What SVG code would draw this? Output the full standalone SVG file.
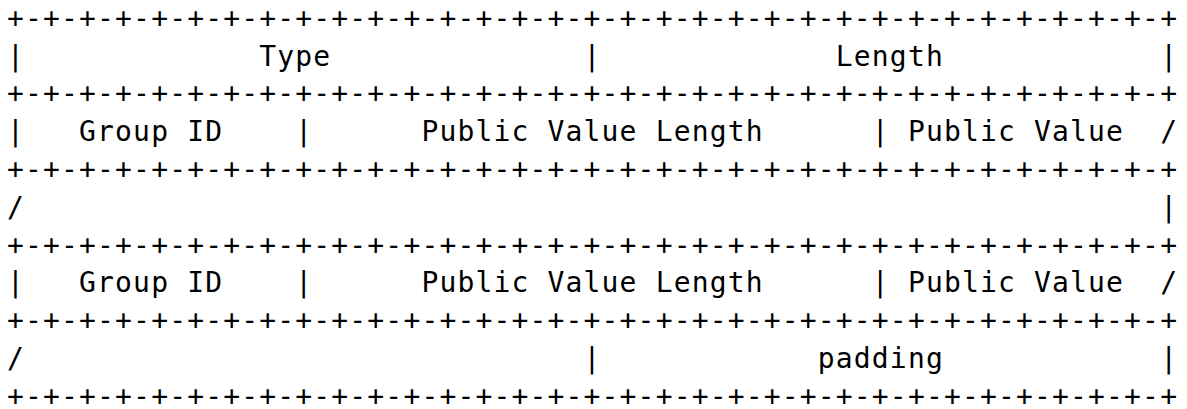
<svg xmlns="http://www.w3.org/2000/svg" width="1187" height="409" viewBox="0 0 1187 409">
<style>
text{font-family:"DejaVu Sans Mono","Liberation Mono",monospace;font-size:28px;fill:#000;white-space:pre}
</style>
<rect width="1187" height="409" fill="#fff"/>
<g id="diagram" xml:space="preserve">
<text x="7" y="27.5" textLength="1170" lengthAdjust="spacing">+-+-+-+-+-+-+-+-+-+-+-+-+-+-+-+-+-+-+-+-+-+-+-+-+-+-+-+-+-+-+-+-+</text>
<text x="7" y="65.5" textLength="1170" lengthAdjust="spacing">|             Type              |             Length            |</text>
<text x="7" y="103" textLength="1170" lengthAdjust="spacing">+-+-+-+-+-+-+-+-+-+-+-+-+-+-+-+-+-+-+-+-+-+-+-+-+-+-+-+-+-+-+-+-+</text>
<text x="7" y="141" textLength="1170" lengthAdjust="spacing">|   Group ID    |      Public Value Length      | Public Value  /</text>
<text x="7" y="179" textLength="1170" lengthAdjust="spacing">+-+-+-+-+-+-+-+-+-+-+-+-+-+-+-+-+-+-+-+-+-+-+-+-+-+-+-+-+-+-+-+-+</text>
<text x="7" y="216.5" textLength="1170" lengthAdjust="spacing">/                                                               |</text>
<text x="7" y="254.5" textLength="1170" lengthAdjust="spacing">+-+-+-+-+-+-+-+-+-+-+-+-+-+-+-+-+-+-+-+-+-+-+-+-+-+-+-+-+-+-+-+-+</text>
<text x="7" y="292" textLength="1170" lengthAdjust="spacing">|   Group ID    |      Public Value Length      | Public Value  /</text>
<text x="7" y="330" textLength="1170" lengthAdjust="spacing">+-+-+-+-+-+-+-+-+-+-+-+-+-+-+-+-+-+-+-+-+-+-+-+-+-+-+-+-+-+-+-+-+</text>
<text x="7" y="368" textLength="1170" lengthAdjust="spacing">/                               |            padding            |</text>
<text x="7" y="405.5" textLength="1170" lengthAdjust="spacing">+-+-+-+-+-+-+-+-+-+-+-+-+-+-+-+-+-+-+-+-+-+-+-+-+-+-+-+-+-+-+-+-+</text>
</g>
</svg>
